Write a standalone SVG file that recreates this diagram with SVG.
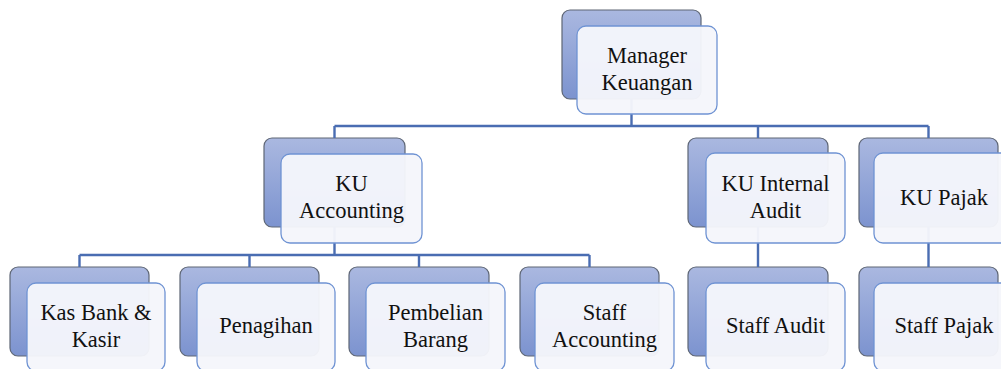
<svg xmlns="http://www.w3.org/2000/svg" width="1001" height="369" viewBox="0 0 1001 369">
<defs>
<linearGradient id="bg" x1="0" y1="0" x2="0" y2="1">
<stop offset="0" stop-color="#AAB8E0"/>
<stop offset="1" stop-color="#7C93CF"/>
</linearGradient>
</defs>
<style>
.back{fill:url(#bg);stroke:#5E6675;stroke-width:1.2}
.front{fill:#F5F6FB;fill-opacity:0.96;stroke:#6F93D3;stroke-width:1.3}
.t{font-size:22.5px;fill:#111;text-anchor:middle}
.c{fill:none;stroke:#4A6DB2;stroke-width:2.4}
</style>
<rect width="1001" height="369" fill="#fff"/>
<g id="backs">
<rect class="back" x="562" y="10" width="139" height="89" rx="8"/>
<rect class="back" x="264" y="138" width="141" height="89" rx="8"/>
<rect class="back" x="688" y="138" width="140" height="89" rx="8"/>
<rect class="back" x="859" y="138" width="139" height="89" rx="8"/>
<rect class="back" x="10" y="267" width="139" height="89" rx="8"/>
<rect class="back" x="180" y="267" width="139" height="89" rx="8"/>
<rect class="back" x="349" y="267" width="140" height="89" rx="8"/>
<rect class="back" x="520" y="267" width="139" height="89" rx="8"/>
<rect class="back" x="688" y="267" width="140" height="89" rx="8"/>
<rect class="back" x="859" y="267" width="139" height="89" rx="8"/>
</g>
<g id="connectors">
<path class="c" d="M631.5 99V126M334.5 126H928.5M334.5 126V138M758 126V138M928.5 126V138"/>
<path class="c" d="M334.5 227V255M79.5 255H589.5M79.5 255V267M249.5 255V267M419 255V267M589.5 255V267"/>
<path class="c" d="M758 227V267M928.5 227V267"/>
</g>
<g font-family="Liberation Serif, Times New Roman, Times, DejaVu Serif, Noto Serif, FreeSerif, serif">
<g id="n-manager">
<rect class="front" x="577" y="26" width="140" height="88" rx="9"/>
<text class="t" x="647" y="63">Manager</text>
<text class="t" x="647" y="90">Keuangan</text>
</g>
<g id="n-ku-accounting">
<rect class="front" x="281" y="154" width="141" height="89" rx="9"/>
<text class="t" x="351.5" y="191">KU</text>
<text class="t" x="351.5" y="218">Accounting</text>
</g>
<g id="n-ku-internal-audit">
<rect class="front" x="706" y="153" width="139" height="90" rx="9"/>
<text class="t" x="775.5" y="191">KU Internal</text>
<text class="t" x="775.5" y="218">Audit</text>
</g>
<g id="n-ku-pajak">
<rect class="front" x="874" y="153" width="140" height="90" rx="9"/>
<text class="t" x="944" y="205">KU Pajak</text>
</g>
<g id="n-kas-bank">
<rect class="front" x="27" y="283" width="138" height="88" rx="9"/>
<text class="t" x="96" y="320">Kas Bank &amp;</text>
<text class="t" x="96" y="347">Kasir</text>
</g>
<g id="n-penagihan">
<rect class="front" x="197" y="283" width="138" height="88" rx="9"/>
<text class="t" x="266" y="333">Penagihan</text>
</g>
<g id="n-pembelian">
<rect class="front" x="366" y="283" width="139" height="88" rx="9"/>
<text class="t" x="435.5" y="320">Pembelian</text>
<text class="t" x="435.5" y="347">Barang</text>
</g>
<g id="n-staff-accounting">
<rect class="front" x="535" y="283" width="139" height="88" rx="9"/>
<text class="t" x="604.5" y="320">Staff</text>
<text class="t" x="604.5" y="347">Accounting</text>
</g>
<g id="n-staff-audit">
<rect class="front" x="706" y="283" width="139" height="88" rx="9"/>
<text class="t" x="775.5" y="333">Staff Audit</text>
</g>
<g id="n-staff-pajak">
<rect class="front" x="874" y="283" width="140" height="88" rx="9"/>
<text class="t" x="944" y="333">Staff Pajak</text>
</g>
</g>
</svg>
